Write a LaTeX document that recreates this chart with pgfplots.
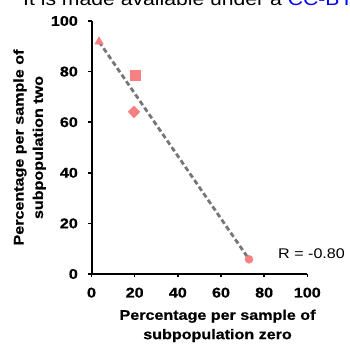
\documentclass[border=0pt]{standalone}
\usepackage{pgfplots}
\pgfplotsset{compat=1.18}
\usepackage{fontspec}
\setmainfont[FakeStretch=1.15, BoldFeatures={FakeBold=0.6}]{Liberation Sans}
\definecolor{mk}{RGB}{247,128,130}
\definecolor{ln}{RGB}{118,118,122}
\begin{document}
\begin{tikzpicture}
\useasboundingbox (0,0) rectangle (349pt,352pt);
\clip (0,0) rectangle (349pt,352pt);
\node[anchor=base west, inner sep=0pt, font=\fontsize{18.4}{22}\selectfont] at (23pt,346.3pt) {It is made available under a \textcolor{blue}{CC-BY 4.0 International license}.};
\begin{axis}[
  at={(91.5pt,78pt)}, anchor=south west,
  scale only axis, width=215.8pt, height=253pt,
  xmin=0, xmax=100, ymin=0, ymax=100,
  axis lines=left, axis line style={-, line width=2pt, black},
  xtick={0,20,...,100}, ytick={0,20,...,100},
  tick align=outside, major tick length=3.5pt,
  tick style={line width=1.5pt, black},
  /pgf/number format/assume math mode=true,
  ticklabel style={font=\bfseries\fontsize{14}{16}\selectfont, inner sep=0pt},
  xticklabel style={anchor=north, yshift=-10pt},
  yticklabel style={anchor=east, xshift=-10pt},
  xlabel={Percentage per sample of\\subpopulation zero},
  ylabel={Percentage per sample of\\subpopulation two},
  label style={font=\bfseries\fontsize{14}{19.3}\selectfont, align=center, inner sep=0pt},
  xlabel style={at={(axis description cs:0.584,-0.1403)}, anchor=north},
  ylabel style={at={(axis description cs:-0.2108,0.5)}, anchor=south, rotate=0},
  clip=false,
]
\addplot[only marks, mark=triangle*, mark size=5pt, color=mk] coordinates {(3.5,91.8)};
\addplot[ln, dash pattern=on 5pt off 3pt, line width=2.8pt] coordinates {(3.5,91.8) (73.0,5.8)};
\addplot[only marks, mark=square*, mark size=5pt, color=mk] coordinates {(20.1,78.4)};
\addplot[only marks, mark=diamond*, mark size=6pt, mark options={xscale=1.3}, color=mk] coordinates {(19.7,64.1)};
\addplot[only marks, mark=*, mark size=4pt, color=mk] coordinates {(73.0,5.8)};
\node[anchor=base east, inner sep=0pt, font=\fontsize{14}{16}\selectfont] at (axis cs:117.5,6.2) {R = -0.80};
\end{axis}
\end{tikzpicture}
\end{document}
